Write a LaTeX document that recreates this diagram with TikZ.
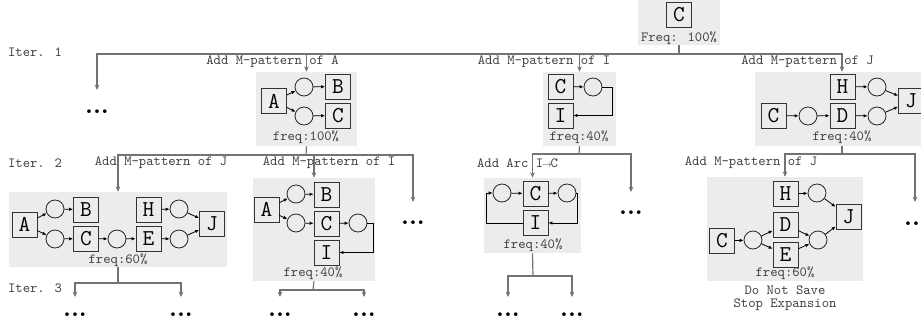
\documentclass[tikz,border=0pt]{standalone}
\usepackage{tikz}
\usetikzlibrary{arrows.meta,fit}

\tikzset{
	tbox/.style={draw=black!80, line width=0.6pt, minimum size=18.75pt, inner sep=0pt,
		font=\fontsize{17}{17}\selectfont\ttfamily},
	place/.style={circle, draw=black!85, line width=0.6pt, minimum size=13.5pt, inner sep=0pt},
	panel/.style={fill=gray!15, inner sep=0pt},
	arc/.style={line width=0.6pt, -{Latex[length=3pt,width=2.6pt]}},
	tree/.style={draw=black!55, line width=0.9pt},
	treearr/.style={tree, -{Stealth[length=4pt,width=3.5pt]}},
	lbl/.style={font=\fontsize{10.5}{12}\selectfont\ttfamily, text=black!75, inner sep=0pt},
	dots/.style={font=\fontsize{19}{19}\selectfont\bfseries, inner sep=0pt}
}

\begin{document}
\begin{tikzpicture}[x=0.75pt, y=-0.75pt]
		\useasboundingbox (0,0) rectangle (921,325);
		% panels
		\node[panel, fit={(638,0) (720,45)}] (P0) {};
		\node[panel, fit={(256,72) (357,146)}] (P1) {};
		\node[panel, fit={(543,72) (616,146)}] (P2) {};
		\node[panel, fit={(755,72) (929,146)}] (P3) {};
		\node[panel, fit={(9,192) (227,267)}] (P4) {};
		\node[panel, fit={(253,178) (375,281)}] (P5) {};
		\node[panel, fit={(484,178) (581,253)}] (P6) {};
		\node[panel, fit={(707,177) (863,281)}] (P7) {};
		% iterations
		\node[lbl] at (35,52) {Iter. 1};
		\node[lbl] at (35,163) {Iter. 2};
		\node[lbl] at (35,288) {Iter. 3};
		% root
		\node[tbox] (C0) at (679,15) {C};
		\node[lbl] at (679,38) {Freq: 100\%};
		% pattern of A
		\node[tbox] (A1) at (274,101) {A};
		\node[place] (S11) at (304,87) {};
		\node[place] (S12) at (304,116) {};
		\node[tbox] (B1) at (338,86.5) {B};
		\node[tbox] (C1) at (338,115.5) {C};
		\draw[arc] (A1) -- (S11);
		\draw[arc] (A1) -- (S12);
		\draw[arc] (S11) -- (B1);
		\draw[arc] (S12) -- (C1);
		\node[lbl] at (306,137) {freq:100\%};
		% pattern of I
		\node[tbox] (C2) at (560.5,86.5) {C};
		\node[place] (S21) at (593,87) {};
		\node[tbox] (I2) at (560.5,115.5) {I};
		\draw[arc] (C2) -- (S21);
		\draw[arc] (S21.east) -- (612,87) |- (I2.east);
		\node[lbl] at (579,137) {freq:40\%};
		% pattern of J
		\node[tbox] (H3) at (842.5,86.5) {H};
		\node[tbox] (C3) at (773.5,115.5) {C};
		\node[tbox] (D3) at (842.5,115.5) {D};
		\node[tbox] (J3) at (911,101) {J};
		\node[place] (S31) at (808,116) {};
		\node[place] (S32) at (877,87) {};
		\node[place] (S33) at (877,116) {};
		\draw[arc] (C3) -- (S31);
		\draw[arc] (S31) -- (D3);
		\draw[arc] (H3) -- (S32);
		\draw[arc] (D3) -- (S33);
		\draw[arc] (S32) -- (J3);
		\draw[arc] (S33) -- (J3);
		\node[lbl] at (842,137) {freq:40\%};
		% A then J
		\node[tbox] (A4) at (24.5,224.5) {A};
		\node[place] (S41) at (55,209) {};
		\node[place] (S42) at (55,239) {};
		\node[tbox] (B4) at (86,209.5) {B};
		\node[tbox] (C4) at (86,238.5) {C};
		\node[place] (S43) at (117,239) {};
		\node[tbox] (H4) at (148.5,209.5) {H};
		\node[tbox] (E4) at (148.5,238.5) {E};
		\node[place] (S44) at (179,209) {};
		\node[place] (S45) at (179,239) {};
		\node[tbox] (J4) at (212,224) {J};
		\draw[arc] (A4) -- (S41);
		\draw[arc] (A4) -- (S42);
		\draw[arc] (S41) -- (B4);
		\draw[arc] (S42) -- (C4);
		\draw[arc] (C4) -- (S43);
		\draw[arc] (S43) -- (E4);
		\draw[arc] (H4) -- (S44);
		\draw[arc] (E4) -- (S45);
		\draw[arc] (S44) -- (J4);
		\draw[arc] (S45) -- (J4);
		\node[lbl] at (118,260) {freq:60\%};
		% A then I
		\node[tbox] (A5) at (266.5,209.5) {A};
		\node[place] (S51) at (296,194) {};
		\node[place] (S52) at (296,223) {};
		\node[tbox] (B5) at (326.5,194.5) {B};
		\node[tbox] (C5) at (326.5,223.5) {C};
		\node[place] (S53) at (358,223) {};
		\node[tbox] (I5) at (326.5,252.5) {I};
		\draw[arc] (A5) -- (S51);
		\draw[arc] (A5) -- (S52);
		\draw[arc] (S51) -- (B5);
		\draw[arc] (S52) -- (C5);
		\draw[arc] (C5) -- (S53);
		\draw[arc] (S53.east) -- (373,223) |- (I5.east);
		\node[lbl] at (313,273) {freq:40\%};
		% arc I to C
		\node[place] (S61) at (502,193) {};
		\node[tbox] (C6) at (535.5,193.5) {C};
		\node[place] (S62) at (567,193) {};
		\node[tbox] (I6) at (535.5,223) {I};
		\draw[arc] (S61) -- (C6);
		\draw[arc] (C6) -- (S62);
		\draw[arc] (S62.east) -- (577,193) |- (I6.east);
		\draw[arc] (I6.west) -- (486,223) |- (S61.west);
		\node[lbl] at (533,245) {freq:40\%};
		% C D E then J
		\node[tbox] (H7) at (785.5,194) {H};
		\node[place] (S71) at (817,193) {};
		\node[tbox] (J7) at (848.5,216.5) {J};
		\node[tbox] (C7) at (722,241) {C};
		\node[place] (S72) at (753,240) {};
		\node[tbox] (D7) at (785.5,224.5) {D};
		\node[tbox] (E7) at (785.5,254.5) {E};
		\node[place] (S73) at (818,240) {};
		\draw[arc] (H7) -- (S71);
		\draw[arc] (S71) -- (J7);
		\draw[arc] (C7) -- (S72);
		\draw[arc] (S72) -- (D7);
		\draw[arc] (S72) -- (E7);
		\draw[arc] (D7) -- (S73);
		\draw[arc] (E7) -- (S73);
		\draw[arc] (S73) -- (J7);
		\node[lbl] at (785,273) {freq:60\%};
		\node[lbl, align=center, font=\fontsize{10.5}{9.5}\selectfont\ttfamily] at (785,298) {Do Not Save\\Stop Expansion};
		% ellipses
		\node[dots] (E01) at (97,112) {...};
		\node[dots] (E02) at (413,223) {...};
		\node[dots] (E03) at (631,213) {...};
		\node[dots] (E04) at (916,224) {...};
		\node[dots] (E05) at (75,315) {...};
		\node[dots] (E06) at (181,315) {...};
		\node[dots] (E07) at (280,315) {...};
		\node[dots] (E08) at (364,315) {...};
		\node[dots] (E09) at (508,315) {...};
		\node[dots] (E10) at (572,315) {...};
		\coordinate (T01) at (97,90);
		\coordinate (T02) at (413,202);
		\coordinate (T03) at (631,192);
		\coordinate (T04) at (915,202);
		\coordinate (T05) at (75,297);
		\coordinate (T06) at (181,297);
		\coordinate (T07) at (280,297);
		\coordinate (T08) at (364,297);
		\coordinate (T09) at (508,297);
		\coordinate (T10) at (572,297);
		% search tree
		\coordinate (J0) at (679,54);
		\coordinate (J1) at (306,155);
		\coordinate (J2) at (579,154);
		\coordinate (J3) at (842,154);
		\coordinate (J4) at (118,283);
		\coordinate (J5) at (313,290);
		\coordinate (J6) at (533,276);
		\draw[tree] (P0.south) -- (J0);
		\draw[treearr] (J0) -| (T01);
		\draw[treearr] (J0) -| (P1.north);
		\draw[treearr] (J0) -| (P2.north);
		\draw[treearr] (J0) -| (P3.north);
		\draw[tree] (P1.south) -- (J1);
		\draw[treearr] (J1) -| (P4.north);
		\draw[treearr] (J1) -| (P5.north);
		\draw[treearr] (J1) -| (T02);
		\draw[tree] (P2.south) -- (J2);
		\draw[treearr] (J2) -| (P6.north);
		\draw[treearr] (J2) -| (T03);
		\draw[tree] (P3.south) -- (J3);
		\draw[treearr] (J3) -| (P7.north);
		\draw[treearr] (J3) -| (T04);
		\draw[tree] (P4.south) -- (J4);
		\draw[treearr] (J4) -| (T05);
		\draw[treearr] (J4) -| (T06);
		\draw[tree] (P5.south) -- (J5);
		\draw[treearr] (J5) -| (T07);
		\draw[treearr] (J5) -| (T08);
		\draw[tree] (P6.south) -- (J6);
		\draw[treearr] (J6) -| (T09);
		\draw[treearr] (J6) -| (T10);
		% branch labels
		\node[lbl] at (272.5,62) {Add M-pattern of A};
		\node[lbl] at (544,62) {Add M-pattern of I};
		\node[lbl] at (807.5,62) {Add M-pattern of J};
		\node[lbl] at (161,163) {Add M-pattern of J};
		\node[lbl] at (329,163) {Add M-pattern of I};
		\node[lbl] at (517.5,163) {Add Arc I\makebox[0.525em]{$\scriptstyle\rightarrow$}C};
		\node[lbl] at (751,163) {Add M-pattern of J};
	\end{tikzpicture}
\end{document}
